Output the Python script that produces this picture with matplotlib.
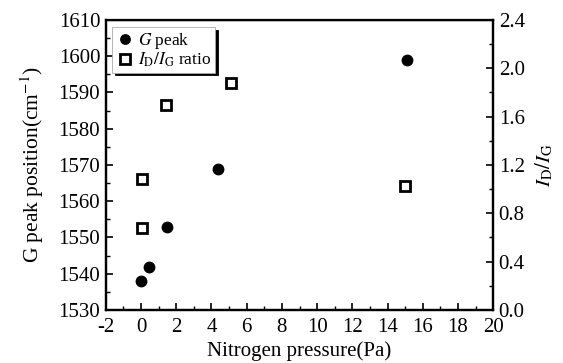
import matplotlib
matplotlib.use('Agg')
import matplotlib.pyplot as plt
from matplotlib.ticker import MultipleLocator

plt.rcParams['font.family'] = ['Liberation Serif', 'DejaVu Serif']
plt.rcParams['mathtext.fontset'] = 'stix'
plt.rcParams['axes.unicode_minus'] = False

# G peak position vs nitrogen pressure
g_x = [0.0, 0.45, 1.5, 4.35, 15.1]
g_pos = [1538.0, 1541.9, 1552.8, 1568.9, 1599.0]

# ID/IG ratio vs nitrogen pressure
r_x = [0.05, 0.05, 1.4, 5.1, 15.0]
r_val = [0.68, 1.08, 1.70, 1.88, 1.03]

fig = plt.figure(figsize=(5.63, 3.63), dpi=100)
ax = fig.add_axes([0.188, 0.146, 0.688, 0.799])
ax2 = ax.twinx()

h1, = ax.plot(g_x, g_pos, 'o', color='k', ms=7.5, ls='none', label=r'$G$ peak')
h2, = ax2.plot(r_x, r_val, 's', mfc='white', mec='k', mew=2.0, ms=7.5,
               ls='none', label=r'$I_{\rm D}/I_{\rm G}$ ratio')

ax.set_xlim(-2, 20)
ax.set_ylim(1530, 1610)
ax2.set_ylim(0.0, 2.4)

ax.xaxis.set_major_locator(MultipleLocator(2))
ax.xaxis.set_minor_locator(MultipleLocator(1))
ax.yaxis.set_major_locator(MultipleLocator(10))
ax.yaxis.set_minor_locator(MultipleLocator(5))
ax2.yaxis.set_major_locator(MultipleLocator(0.4))
ax2.yaxis.set_minor_locator(MultipleLocator(0.2))
ax2.yaxis.set_major_formatter(plt.FormatStrFormatter('%.1f'))

for a in (ax, ax2):
    for s in a.spines.values():
        s.set_linewidth(1.6)
    a.tick_params(which='major', direction='in', length=5, width=1.2,
                  labelsize=15, pad=4)
    a.tick_params(which='minor', direction='in', length=3, width=1.0)
ax.spines['top'].set_linewidth(1.0)
ax.tick_params(axis='y', which='both', right=False)
ax.tick_params(axis='x', which='major', pad=6)

ax.set_xlabel('Nitrogen pressure(Pa)', fontsize=15, labelpad=3)
ax.set_ylabel(r'G peak position(cm$^{-1}$)', fontsize=15.5, labelpad=9)
ax2.set_ylabel(r'$I_{\rm D}/I_{\rm G}$', fontsize=15, labelpad=6)

leg = ax.legend(handles=[h1, h2], loc='upper left',
                bbox_to_anchor=(0.016, 0.975), borderaxespad=0,
                fontsize=12.5, handlelength=1.1, handletextpad=0.2,
                borderpad=0.2, labelspacing=0.0, markerscale=0.9,
                fancybox=False, framealpha=1,
                shadow={'color': 'k', 'alpha': 1.0})
leg.get_frame().set_edgecolor('#aaaaaa')
leg.get_frame().set_linewidth(0.6)

fig.savefig('out.png', dpi=100)
